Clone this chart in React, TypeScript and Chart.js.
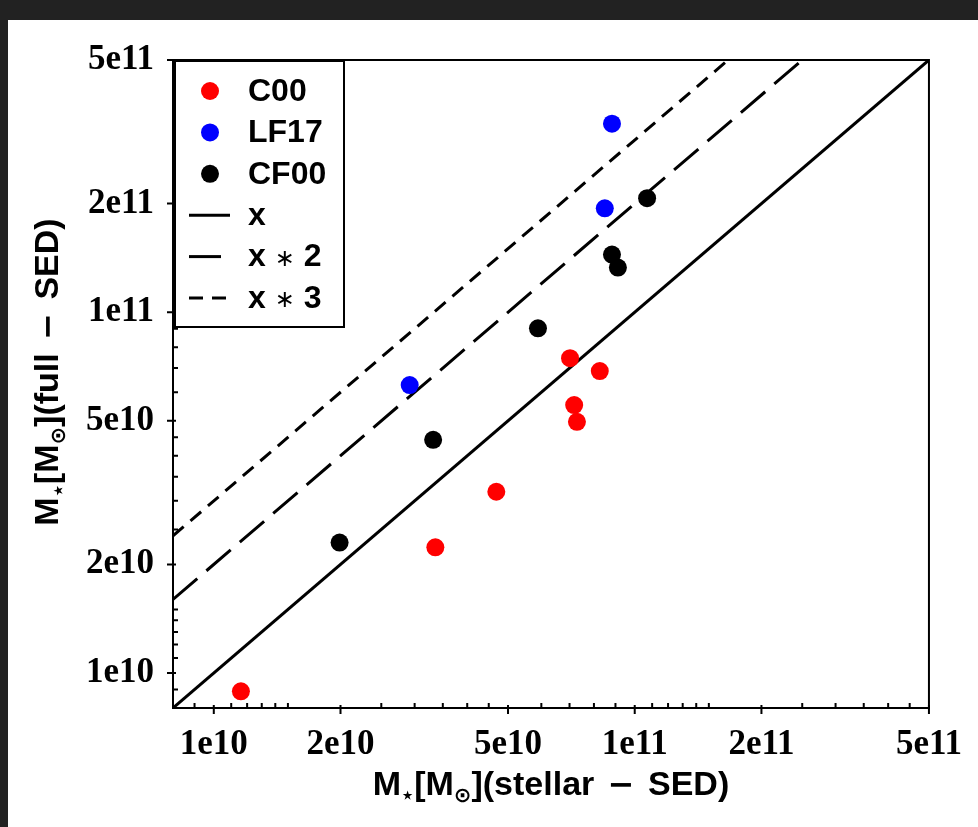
import React, { useEffect, useRef } from 'react';
import { Chart, registerables } from 'chart.js';

Chart.register(...registerables);

// ---- data ----
const c00X = [1.16e10, 3.36e10, 4.69e10, 7.02e10, 8.26e10, 7.18e10, 7.29e10];
const c00Y = [8.9e9, 2.23e10, 3.18e10, 7.46e10, 6.87e10, 5.53e10, 4.97e10];
const lf17X = [2.92e10, 8.49e10, 8.83e10];
const lf17Y = [6.28e10, 1.94e11, 3.33e11];
const cf00X = [1.99e10, 3.32e10, 5.89e10, 8.83e10, 9.12e10, 1.07e11];
const cf00Y = [2.3e10, 4.43e10, 9.02e10, 1.445e11, 1.33e11, 2.07e11];

const lineX = [8e9, 5e11];
const lineY1 = [8e9, 5e11];
const lineY2 = [1.6e10, 1e12];
const lineY3 = [2.4e10, 1.5e12];

const seriesLabels = ['C00', 'LF17', 'CF00', 'x', 'x ∗ 2', 'x ∗ 3'];

const axisMin = 8e9;
const axisMax = 5e11;
const majorTicks = [1e10, 2e10, 5e10, 1e11, 2e11, 5e11];
const majorLabels = ['1e10', '2e10', '5e10', '1e11', '2e11', '5e11'];
const minorTicks = [
  9e9, 1.1e10, 1.2e10, 1.3e10, 1.4e10, 1.5e10, 2.5e10, 3e10, 3.5e10, 4e10, 4.5e10,
  6e10, 7e10, 8e10, 9e10, 1.1e11, 1.2e11, 1.3e11, 1.4e11, 1.5e11, 2.5e11, 3e11,
  3.5e11, 4e11, 4.5e11,
];

type Part = { t: string; kind: 'main' | 'sub' | 'op' };
const xTitleParts: Part[] = [
  { t: 'M', kind: 'main' },
  { t: '⋆', kind: 'sub' },
  { t: '[M', kind: 'main' },
  { t: '⊙', kind: 'sub' },
  { t: '](stellar ', kind: 'main' },
  { t: '−', kind: 'op' },
  { t: ' SED)', kind: 'main' },
];
const yTitleParts: Part[] = [
  { t: 'M', kind: 'main' },
  { t: '⋆', kind: 'sub' },
  { t: '[M', kind: 'main' },
  { t: '⊙', kind: 'sub' },
  { t: '](full ', kind: 'main' },
  { t: '−', kind: 'op' },
  { t: ' SED)', kind: 'main' },
];

const MAIN_FONT = 'bold 34px "Liberation Sans", Arial, sans-serif';
const SUB_FONT = 'bold 21px "DejaVu Sans", sans-serif';
const OP_FONT = 'bold 32px "DejaVu Sans", sans-serif';
const LEGEND_FONT = 'bold 32px "Liberation Sans", Arial, sans-serif';
const STAR_FONT = 'normal 24px "DejaVu Sans", sans-serif';
const TICK_FONT_FAMILY = '"Liberation Serif", "Times New Roman", serif';

const fontFor = (k: Part['kind']) => (k === 'sub' ? SUB_FONT : k === 'op' ? OP_FONT : MAIN_FONT);

function drawRich(ctx: CanvasRenderingContext2D, parts: Part[], cx: number, y: number) {
  let total = 0;
  const widths: number[] = [];
  for (const p of parts) {
    ctx.font = fontFor(p.kind);
    const w = ctx.measureText(p.t).width + (p.kind === 'op' ? 8 : 0);
    widths.push(w);
    total += w;
  }
  let cur = cx - total / 2;
  parts.forEach((p, i) => {
    ctx.font = fontFor(p.kind);
    const dx = p.kind === 'op' ? 4 : 0;
    ctx.fillText(p.t, cur + dx, y + (p.kind === 'sub' ? 7 : 0));
    cur += widths[i];
  });
}

function drawLegendLabel(ctx: CanvasRenderingContext2D, label: string, x: number, y: number) {
  const pieces = label.split('∗');
  let cur = x;
  pieces.forEach((piece, i) => {
    ctx.font = LEGEND_FONT;
    ctx.fillText(piece, cur, y);
    cur += ctx.measureText(piece).width;
    if (i < pieces.length - 1) {
      ctx.font = STAR_FONT;
      ctx.fillText('∗', cur, y + 2);
      cur += ctx.measureText('∗').width;
    }
  });
}

function labelFor(value: number) {
  for (let i = 0; i < majorTicks.length; i++) {
    if (Math.abs(value / majorTicks[i] - 1) < 1e-6) return majorLabels[i];
  }
  return '';
}

const overlay = {
  id: 'overlay',
  afterDraw(chart: any) {
    const ctx: CanvasRenderingContext2D = chart.ctx;
    const ca = chart.chartArea;
    const xs = chart.scales.x;
    const ys = chart.scales.y;
    ctx.save();
    ctx.strokeStyle = '#000';
    ctx.fillStyle = '#000';
    ctx.lineWidth = 2;
    ctx.setLineDash([]);
    // minor ticks (inward)
    ctx.beginPath();
    for (const v of minorTicks) {
      const px = xs.getPixelForValue(v);
      ctx.moveTo(px, ca.bottom);
      ctx.lineTo(px, ca.bottom - 5);
      const py = ys.getPixelForValue(v);
      ctx.moveTo(ca.left, py);
      ctx.lineTo(ca.left + 5, py);
    }
    // major ticks
    for (const v of majorTicks) {
      const px = xs.getPixelForValue(v);
      ctx.moveTo(px, ca.bottom + 6);
      ctx.lineTo(px, ca.bottom - 3);
      const py = ys.getPixelForValue(v);
      ctx.moveTo(ca.left - 6, py);
      ctx.lineTo(ca.left + 3, py);
    }
    ctx.stroke();
    // frame
    ctx.strokeRect(ca.left, ca.top, ca.right - ca.left, ca.bottom - ca.top);

    // legend
    const bx = ca.left + 2;
    const by = ca.top + 1;
    const bw = 169;
    const bh = 266;
    ctx.fillStyle = '#fff';
    ctx.fillRect(bx, by, bw, bh);
    ctx.strokeStyle = '#000';
    ctx.lineWidth = 2;
    ctx.strokeRect(bx, by, bw, bh);
    const ds = chart.data.datasets;
    ctx.textBaseline = 'middle';
    ds.forEach((d: any, i: number) => {
      const ry = ca.top + 31 + i * 41.4;
      if (d.showLine) {
        ctx.save();
        ctx.strokeStyle = d.borderColor;
        ctx.lineWidth = d.borderWidth;
        ctx.setLineDash(d.borderDash || []);
        ctx.beginPath();
        ctx.moveTo(ca.left + 16, ry);
        ctx.lineTo(ca.left + 57, ry);
        ctx.stroke();
        ctx.restore();
      } else {
        ctx.beginPath();
        ctx.fillStyle = d.backgroundColor;
        ctx.arc(ca.left + 37, ry, d.pointRadius, 0, Math.PI * 2);
        ctx.fill();
      }
      ctx.fillStyle = '#000';
      ctx.textAlign = 'left';
      drawLegendLabel(ctx, d.label, ca.left + 75, ry + 1);
    });

    // axis titles
    ctx.textBaseline = 'alphabetic';
    ctx.textAlign = 'left';
    ctx.fillStyle = '#000';
    drawRich(ctx, xTitleParts, (ca.left + ca.right) / 2, ca.bottom + 87);
    ctx.save();
    ctx.translate(50, (ca.top + ca.bottom) / 2 - 12);
    ctx.rotate(-Math.PI / 2);
    drawRich(ctx, yTitleParts, 0, 0);
    ctx.restore();
    ctx.restore();
  },
};

export default function App() {
  const ref = useRef<HTMLCanvasElement>(null);
  useEffect(() => {
    document.body.style.background = '#222222';
    const canvas = ref.current;
    if (!canvas) return;
    const toPts = (xs: number[], ys: number[]) => xs.map((x, i) => ({ x, y: ys[i] }));
    const scatterDs = (label: string, xs: number[], ys: number[], color: string) => ({
      label,
      data: toPts(xs, ys),
      backgroundColor: color,
      borderColor: color,
      pointRadius: 9,
      pointHoverRadius: 9,
      pointBorderWidth: 0,
      showLine: false,
    });
    const lineDs = (label: string, ys: number[], dash: number[]) => ({
      label,
      data: toPts(lineX, ys),
      showLine: true,
      borderColor: '#000',
      backgroundColor: '#000',
      borderWidth: 3,
      borderDash: dash,
      pointRadius: 0,
      pointHoverRadius: 0,
    });
    const tickCommon = {
      font: { family: TICK_FONT_FAMILY, size: 35, weight: 'bold' as const },
      color: '#000',
      autoSkip: false,
      maxRotation: 0,
      minRotation: 0,
      callback: (v: any) => labelFor(Number(v)),
    };
    const chart = new Chart(canvas, {
      type: 'scatter',
      data: {
        datasets: [
          scatterDs(seriesLabels[0], c00X, c00Y, '#ff0000'),
          scatterDs(seriesLabels[1], lf17X, lf17Y, '#0000ff'),
          scatterDs(seriesLabels[2], cf00X, cf00Y, '#000000'),
          lineDs(seriesLabels[3], lineY1, []),
          lineDs(seriesLabels[4], lineY2, [32, 12]),
          lineDs(seriesLabels[5], lineY3, [14, 9]),
        ] as any,
      },
      options: {
        animation: false,
        responsive: true,
        maintainAspectRatio: false,
        events: [],
        layout: { padding: { top: 39, right: 48, left: 0, bottom: 0 } },
        plugins: { legend: { display: false }, tooltip: { enabled: false } },
        scales: {
          x: {
            type: 'logarithmic',
            min: axisMin,
            max: axisMax,
            bounds: 'data',
            grid: { display: false, drawTicks: false, tickLength: 0 },
            border: { display: false },
            ticks: { ...tickCommon, padding: 16 },
            afterBuildTicks: (s: any) => {
              s.ticks = majorTicks.map((v) => ({ value: v }));
            },
            afterFit: (s: any) => {
              s.height = 119;
            },
          },
          y: {
            type: 'logarithmic',
            min: axisMin,
            max: axisMax,
            bounds: 'data',
            grid: { display: false, drawTicks: false, tickLength: 0 },
            border: { display: false },
            ticks: { ...tickCommon, padding: 19 },
            afterBuildTicks: (s: any) => {
              s.ticks = majorTicks.map((v) => ({ value: v }));
            },
            afterFit: (s: any) => {
              s.width = 165;
            },
          },
        },
      } as any,
      plugins: [overlay],
    });
    return () => chart.destroy();
  }, []);

  return (
    <div
      style={{
        position: 'fixed',
        left: 8,
        top: 20,
        width: 970,
        height: 807,
        background: '#ffffff',
      }}
    >
      <canvas ref={ref} />
    </div>
  );
}
